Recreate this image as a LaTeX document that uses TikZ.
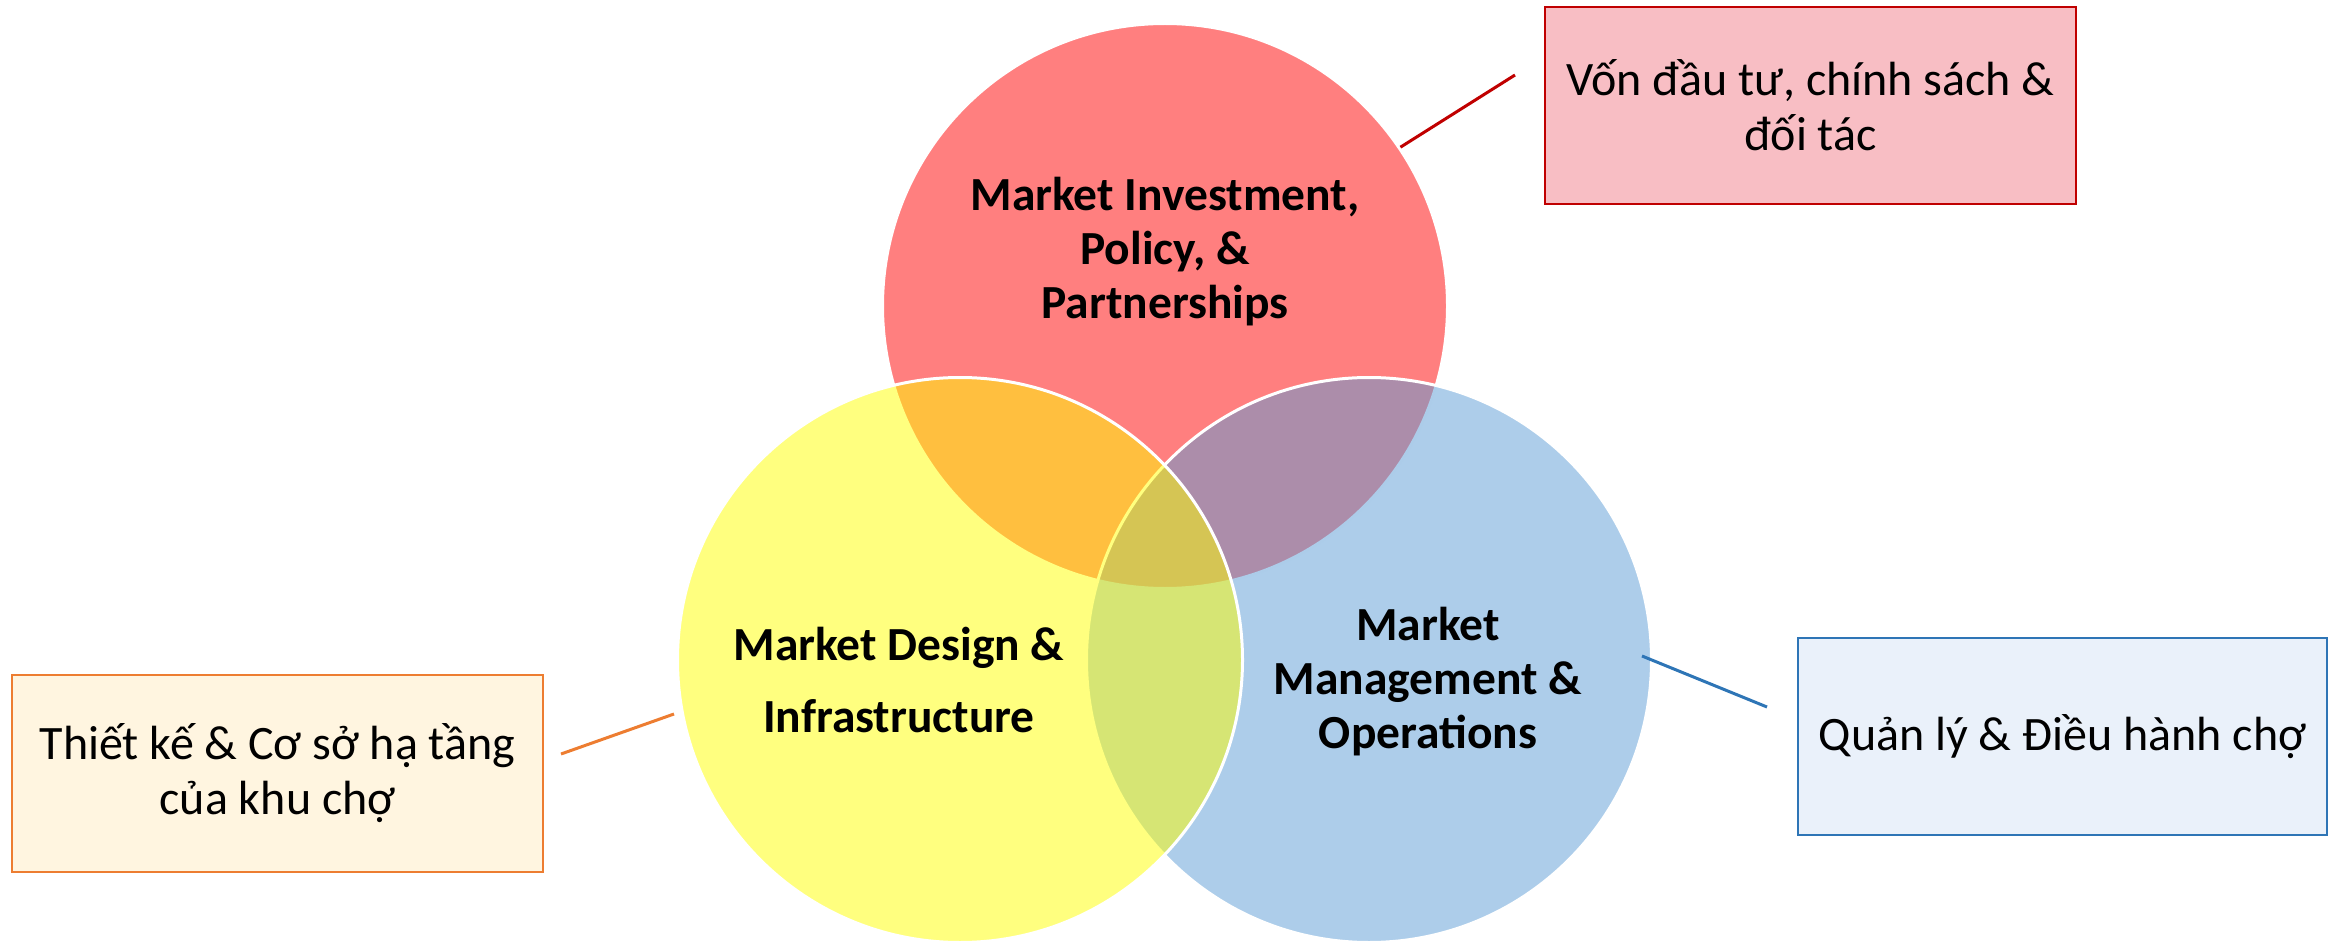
\documentclass[tikz,border=0pt]{standalone}
\usepackage{fontspec}
\setmainfont{Carlito}
\definecolor{cred}{HTML}{FF0000}
\definecolor{cyel}{HTML}{FFFF00}
\definecolor{cblu}{HTML}{5B9BD5}
\definecolor{bred}{HTML}{C00000}
\definecolor{bora}{HTML}{ED7D31}
\definecolor{bblu}{HTML}{2E75B6}
\definecolor{fred}{HTML}{F8BEC4}
\definecolor{fora}{HTML}{FFF5E0}
\definecolor{fblu}{HTML}{EAF1FA}
\begin{document}
\begin{tikzpicture}[x=1pt,y=-1pt,
  venn/.style={circle, inner sep=0pt, minimum size=565pt, draw=white, line width=3pt, fill opacity=0.5},
  bigtxt/.style={align=center, inner sep=0pt, font=\fontsize{47.5}{54}\selectfont\bfseries},
  boxtxt/.style={align=center, inner sep=0pt, minimum width=531pt, minimum height=197pt, line width=2.5pt, font=\fontsize{48}{55}\selectfont},
  link/.style={line width=3pt}]
\useasboundingbox (0,0) rectangle (2338,944);
% circles: order red, blue, yellow
\node[venn, fill=cred] (cRed) at (1165,306) {};
\node[venn, fill=cblu] (cBlu) at (1369,660) {};
\node[venn, fill=cyel] (cYel) at (960,660) {};
% circle labels
\node[bigtxt] (tRed) at (1165,252) {Market Investment,\\Policy, \&\\Partnerships};
\node[bigtxt, font=\fontsize{47.5}{72}\selectfont\bfseries] (tYel) at (899,680) {Market Design \&\\Infrastructure};
\node[bigtxt] (tBlu) at (1428,682) {Market\\Management \&\\Operations};
% boxes
\node[boxtxt, draw=bred, fill=fred] (bRed) at (1810.5,105.5) {Vốn đầu tư, chính sách \&\\đối tác};
\node[boxtxt, draw=bora, fill=fora] (bOra) at (277.5,773.5) {Thiết kế \& Cơ sở hạ tầng\\của khu chợ};
\node[boxtxt, minimum width=529pt, draw=bblu, fill=fblu] (bBlu) at (2062.5,736.5) {Quản lý \& Điều hành chợ};
% connector ends
\coordinate (eRed) at (1515,75);
\coordinate (eOraA) at (674,714);
\coordinate (eOraB) at (561,754);
\coordinate (eBluA) at (1642,656);
\coordinate (eBluB) at (1767,707);
\draw[link, bred] (cRed.34) -- (eRed);
\draw[link, bora] (eOraA) -- (eOraB);
\draw[link, bblu] (eBluA) -- (eBluB);
\end{tikzpicture}
\end{document}
